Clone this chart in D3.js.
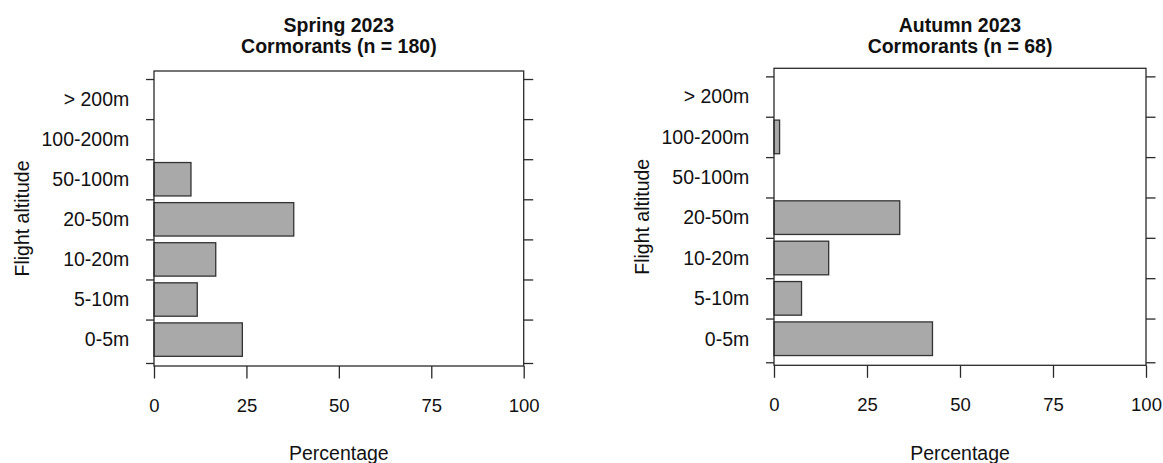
<!DOCTYPE html>
<html>
<head>
<meta charset="utf-8">
<script src="https://cdn.jsdelivr.net/npm/d3@7"></script>
<style>
  html, body { margin: 0; padding: 0; background: #ffffff; }
  svg { display: block; }
  text { font-family: "Liberation Sans", Arial, Helvetica, sans-serif; fill: #111; }
</style>
</head>
<body>
<svg id="chart" width="1163" height="463"></svg>
<script>
// ---- data ----
const categories = ["0-5m", "5-10m", "10-20m", "20-50m", "50-100m", "100-200m", "> 200m"];
const springValues = [23.9, 11.7, 16.7, 37.8, 10.0, 0, 0];
const autumnValues = [42.6, 7.4, 14.7, 33.8, 0, 1.5, 0];
const xTicks = [0, 25, 50, 75, 100];
const panelTitles = [["Spring 2023", "Cormorants (n = 180)"], ["Autumn 2023", "Cormorants (n = 68)"]];
const xLabel = "Percentage";
const yLabel = "Flight altitude";

// ---- layout ----
const panels = [
  { values: springValues, title: panelTitles[0], left: 154, right: 523.7, top: 71, bottom: 366 },
  { values: autumnValues, title: panelTitles[1], left: 774, right: 1146, top: 68.3, bottom: 365.3 }
];

const svg = d3.select("#chart");
const barW = 1.0, gap = 0.2; // R barplot style units
const lineCol = "#2a2a2a";

panels.forEach(p => {
  const g = svg.append("g");
  const x = d3.scaleLinear().domain([0, 100]).range([p.left, p.right]);
  const y = d3.scaleLinear().domain([-0.09, 8.74]).range([p.bottom, p.top]);

  const barStart = i => gap + i * (barW + gap);
  const boundaries = [0].concat(categories.map((c, i) => barStart(i) + barW + gap / 2));

  // bars
  g.selectAll("rect.bar")
    .data(categories.map((c, i) => ({ c, i, v: p.values[i] })).filter(d => d.v > 0))
    .join("rect")
    .attr("class", "bar")
    .attr("x", x(0))
    .attr("y", d => y(barStart(d.i) + barW))
    .attr("width", d => x(d.v) - x(0))
    .attr("height", d => y(barStart(d.i)) - y(barStart(d.i) + barW))
    .attr("fill", "#a9a9a9")
    .attr("stroke", "#333")
    .attr("stroke-width", 1.3);

  // box
  g.append("rect")
    .attr("x", p.left).attr("y", p.top)
    .attr("width", p.right - p.left).attr("height", p.bottom - p.top)
    .attr("fill", "none").attr("stroke", lineCol).attr("stroke-width", 1.3);

  // left ticks
  const yAxisL = d3.axisLeft(y).tickValues(boundaries).tickSize(8).tickFormat("");
  const gl = g.append("g").attr("transform", `translate(${p.left},0)`).call(yAxisL);
  // right ticks
  const yAxisR = d3.axisRight(y).tickValues(boundaries).tickSize(9.5).tickFormat("");
  const gr = g.append("g").attr("transform", `translate(${p.right},0)`).call(yAxisR);
  // bottom axis
  const xAxis = d3.axisBottom(x).tickValues(xTicks).tickSize(12.5).tickPadding(20).tickFormat(d3.format("d"));
  const gb = g.append("g").attr("transform", `translate(0,${p.bottom})`).call(xAxis);

  [gl, gr, gb].forEach(a => {
    a.select(".domain").remove();
    a.selectAll(".tick line").attr("stroke", lineCol).attr("stroke-width", 1.3);
  });
  gb.selectAll(".tick text")
    .attr("font-size", "18.5px")
    .attr("fill", "#111")
    .attr("font-family", "Liberation Sans, Arial, sans-serif");

  // category labels
  g.selectAll("text.cat")
    .data(categories)
    .join("text")
    .attr("class", "cat")
    .attr("x", p.left - 24.7)
    .attr("y", (c, i) => y(barStart(i) + barW / 2))
    .attr("dy", "0.35em")
    .attr("text-anchor", "end")
    .attr("font-size", "19.5px")
    .text(c => c);

  // titles
  const cx = (p.left + p.right) / 2;
  g.append("text").attr("x", cx).attr("y", 31.5).attr("text-anchor", "middle")
    .attr("font-size", "19.5px").attr("font-weight", "bold").text(p.title[0]);
  g.append("text").attr("x", cx).attr("y", 53).attr("text-anchor", "middle")
    .attr("font-size", "19.5px").attr("font-weight", "bold").text(p.title[1]);

  // x label
  g.append("text").attr("x", cx).attr("y", 459.5).attr("text-anchor", "middle")
    .attr("font-size", "19.5px").text(xLabel);

  // y label
  const ly = (p.top + p.bottom) / 2;
  g.append("text")
    .attr("transform", `translate(${p.left - 125},${ly}) rotate(-90)`)
    .attr("text-anchor", "middle")
    .attr("font-size", "19.5px")
    .text(yLabel);
});
</script>
</body>
</html>
